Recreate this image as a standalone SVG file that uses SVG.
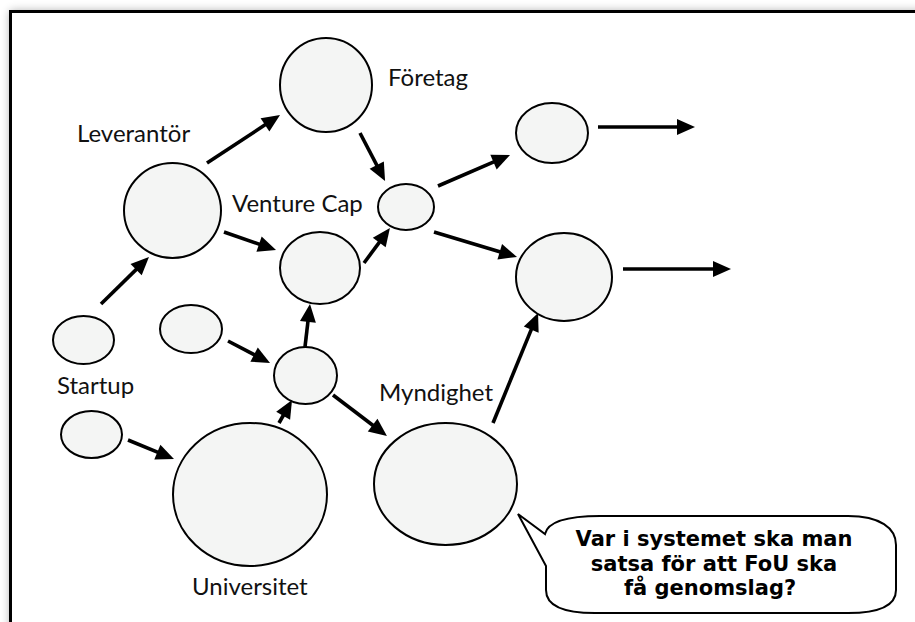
<svg xmlns="http://www.w3.org/2000/svg" width="915" height="622" viewBox="0 0 915 622">
<defs>
<filter id="sh" x="-0.1" y="-0.1" width="1.2" height="1.2"><feGaussianBlur stdDeviation="5"/></filter>
<marker id="ah" markerUnits="userSpaceOnUse" markerWidth="18" markerHeight="16" refX="6" refY="8" orient="auto" overflow="visible"><path d="M0,0 L18,8 L0,16 Z" fill="#000"/></marker>
</defs>
<style>
.n{fill:#f4f5f4;stroke:#000;stroke-width:2}
.c line{stroke:#000;stroke-width:3.6;marker-end:url(#ah)}
.t{font-family:Lato,"Liberation Sans",sans-serif;font-size:24px;fill:#111}
.b{font-family:"DejaVu Sans",Lato,sans-serif;font-size:21px;font-weight:bold;fill:#000;text-anchor:middle}
</style>
<rect x="0" y="0" width="915" height="622" fill="#fff"/>
<rect x="10" y="11" width="1000" height="700" fill="#000" opacity="0.35" filter="url(#sh)"/>
<rect x="10.5" y="11.5" width="1000" height="700" fill="#fff" stroke="#000" stroke-width="3"/>

<g id="foretag"><ellipse class="n" cx="326" cy="85" rx="46" ry="47"/><text class="t" x="388" y="86">Företag</text></g>
<g id="leverantor"><ellipse class="n" cx="172.5" cy="210.5" rx="48.5" ry="47.5"/><text class="t" x="77" y="142">Leverantör</text></g>
<g id="venturecap-small"><ellipse class="n" cx="406" cy="207" rx="28" ry="23"/></g>
<g id="venturecap"><ellipse class="n" cx="320" cy="268" rx="40" ry="36"/><text class="t" x="232" y="212">Venture Cap</text></g>
<g id="right-small"><ellipse class="n" cx="552" cy="133" rx="36" ry="30"/></g>
<g id="right-big"><ellipse class="n" cx="564" cy="277" rx="48" ry="44"/></g>
<g id="mid-left"><ellipse class="n" cx="191" cy="329" rx="31" ry="24"/></g>
<g id="startup-top"><ellipse class="n" cx="83.5" cy="340" rx="30.5" ry="24"/><text class="t" x="57" y="394">Startup</text></g>
<g id="startup-bottom"><ellipse class="n" cx="91.5" cy="434.5" rx="30.5" ry="23.5"/></g>
<g id="hub"><ellipse class="n" cx="305.5" cy="375.5" rx="31.5" ry="28.5"/></g>
<g id="universitet"><ellipse class="n" cx="250" cy="494.5" rx="77" ry="71.5"/><text class="t" x="192" y="595">Universitet</text></g>
<g id="myndighet"><ellipse class="n" cx="445.5" cy="484" rx="71.5" ry="61"/><text class="t" x="379" y="401">Myndighet</text></g>

<g id="connectors" class="c">
<line x1="101" y1="304" x2="140.4" y2="265.4"/>
<line x1="207" y1="163" x2="270" y2="121.6"/>
<line x1="360" y1="133" x2="379.5" y2="170.4"/>
<line x1="224" y1="232" x2="264.7" y2="246.1"/>
<line x1="364" y1="263" x2="382.8" y2="237.6"/>
<line x1="438" y1="186" x2="499" y2="159.7"/>
<line x1="434" y1="232" x2="505.5" y2="253.5"/>
<line x1="598" y1="127" x2="683" y2="127"/>
<line x1="623" y1="269" x2="719" y2="269"/>
<line x1="228" y1="341" x2="259.4" y2="357.4"/>
<line x1="305" y1="347" x2="308.6" y2="315.9"/>
<line x1="279" y1="423" x2="286.1" y2="410.5"/>
<line x1="333" y1="395" x2="377.4" y2="428.7"/>
<line x1="128" y1="440" x2="162.9" y2="454.4"/>
<line x1="493" y1="423" x2="533.5" y2="324.1"/>
</g>

<g id="callout">
<path d="M518,514 L545,534 C548,521 570,516 600,516 L848,516 C880,516 896,528 896,545 L896,590 C896,606 880,613 848,613 L595,613 C565,613 546,606 546,590 L546,566 Z" fill="#fff" stroke="#000" stroke-width="2"/>
<text class="b" x="714" y="546">Var i systemet ska man</text>
<text class="b" x="714" y="570.5">satsa för att FoU ska</text>
<text class="b" x="710" y="595">få genomslag?</text>
</g>
</svg>
